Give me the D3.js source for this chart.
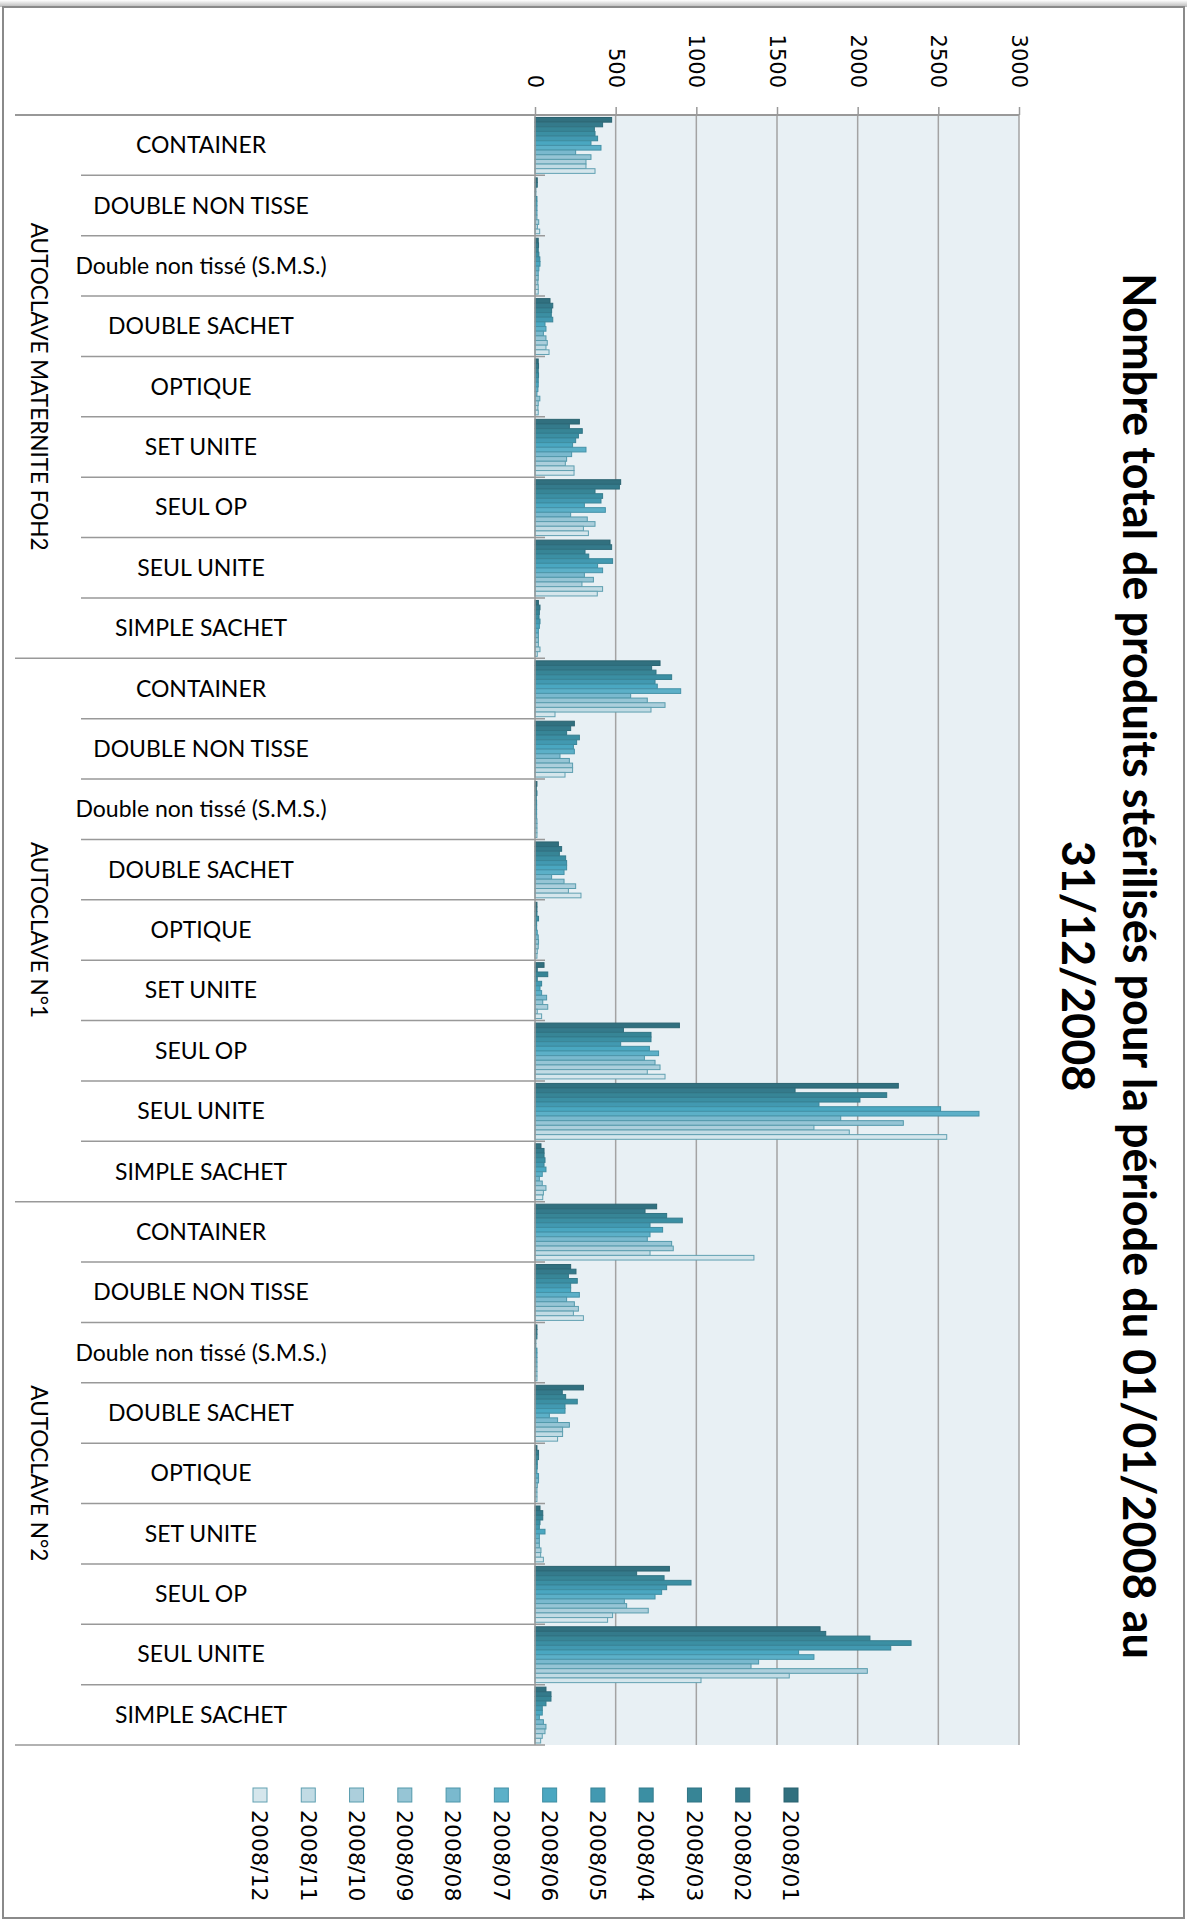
<!DOCTYPE html>
<html>
<head>
<meta charset="utf-8">
<title>Nombre total de produits stérilisés 2008</title>
<script src="https://d3js.org/d3.v7.min.js"></script>
<style>
  body { margin: 0; background: #fff; }
  .lab { font-family: Lato, "Open Sans", sans-serif; fill: #000; }
  .num { font-family: "DejaVu Sans", sans-serif; fill: #000; }
</style>
</head>
<body>
<div id="chart"></div>
<script>
// outer level (autoclave) and inner level (product)
var groups = ["AUTOCLAVE MATERNITE FOH2", "AUTOCLAVE N°1", "AUTOCLAVE N°2"];
var products = ["CONTAINER", "DOUBLE NON TISSE", "Double non tissé (S.M.S.)", "DOUBLE SACHET",
                "OPTIQUE", "SET UNITE", "SEUL OP", "SEUL UNITE", "SIMPLE SACHET"];
var months = ["2008/01", "2008/02", "2008/03", "2008/04", "2008/05", "2008/06",
              "2008/07", "2008/08", "2008/09", "2008/10", "2008/11", "2008/12"];
var tickValues = [0, 500, 1000, 1500, 2000, 2500, 3000];

// one row per product, months 01..12
var foh2 = [
  [475, 419, 368, 372, 388, 347, 409, 252, 347, 316, 316, 372],
  [14, 14, 5, 5, 12, 12, 12, 12, 12, 23, 15, 29],
  [20, 22, 20, 24, 30, 31, 24, 20, 20, 18, 20, 20],
  [93, 110, 103, 101, 110, 62, 68, 52, 68, 76, 68, 87],
  [20, 22, 20, 22, 20, 20, 18, 12, 30, 20, 18, 20],
  [275, 213, 293, 269, 252, 233, 316, 227, 196, 188, 242, 242],
  [531, 523, 372, 419, 409, 306, 436, 221, 324, 372, 300, 331],
  [465, 475, 310, 333, 481, 388, 419, 306, 362, 291, 419, 386],
  [21, 31, 27, 25, 31, 27, 21, 21, 21, 21, 31, 14]
];
var autoclave1 = [
  [775, 723, 750, 847, 744, 758, 903, 593, 696, 806, 719, 124],
  [244, 221, 196, 275, 258, 238, 244, 155, 213, 233, 233, 186],
  [12, 8, 12, 8, 10, 10, 10, 10, 12, 12, 12, 12],
  [145, 165, 151, 190, 196, 196, 180, 103, 180, 252, 207, 285],
  [12, 12, 12, 22, 10, 10, 14, 20, 22, 20, 14, 12],
  [56, 14, 79, 14, 41, 31, 41, 72, 48, 79, 14, 41],
  [895, 548, 719, 719, 531, 709, 766, 678, 744, 775, 696, 806],
  [2252, 1612, 2180, 2014, 1760, 2514, 2752, 1895, 2283, 1729, 1948, 2552],
  [37, 56, 56, 62, 56, 68, 45, 27, 45, 68, 52, 48]
];
var autoclave2 = [
  [754, 682, 816, 913, 713, 791, 713, 696, 847, 857, 713, 1357],
  [221, 254, 207, 262, 221, 221, 275, 196, 244, 269, 238, 300],
  [12, 12, 12, 5, 5, 12, 12, 12, 12, 12, 12, 12],
  [300, 169, 190, 262, 186, 186, 89, 140, 213, 171, 171, 140],
  [12, 22, 22, 14, 14, 12, 22, 22, 14, 12, 12, 12],
  [31, 48, 48, 31, 27, 62, 27, 27, 27, 37, 35, 52],
  [833, 630, 800, 967, 816, 785, 744, 554, 568, 702, 481, 450],
  [1767, 1802, 2076, 2331, 2205, 1634, 1729, 1386, 1339, 2060, 1576, 1029],
  [68, 99, 99, 68, 45, 45, 27, 52, 68, 62, 45, 35]
];
var monthColors = ["#31707f", "#347a8b", "#378596", "#3b8fa3", "#4299b1", "#4aa7c1",
                   "#5cb0c8", "#7ab9ce", "#96c5d5", "#accfdc", "#c1dbe4", "#d5e6ec"];
var monthStrokes = ["#2b6370", "#2e6b7a", "#317484", "#357d8e", "#3a8598", "#3f8ea2",
                    "#4592a8", "#4d96aa", "#5399ab", "#5a9dae", "#5e9fb0", "#62a1b2"];

var series = [foh2, autoclave1, autoclave2];
var rows = [];
groups.forEach(function(g, gi) {
  products.forEach(function(p, pi) {
    rows.push({ group: g, gi: gi, pi: pi, product: p, key: gi + "|" + pi, values: series[gi][pi] });
  });
});

var width = 1187, height = 1921;
var plotLeft = 535, plotRight = 1019, plotTop = 115, plotBottom = 1745;

var svg = d3.select("#chart").append("svg")
  .attr("width", width)
  .attr("height", height);

// page frame with a little shadow on top
var grad = svg.append("defs").append("linearGradient")
  .attr("id", "shade").attr("x1", 0).attr("y1", 0).attr("x2", 0).attr("y2", 1);
grad.append("stop").attr("offset", "0%").attr("stop-color", "#ffffff");
grad.append("stop").attr("offset", "100%").attr("stop-color", "#b8b8b8");
svg.append("rect").attr("x", 0).attr("y", 0).attr("width", width).attr("height", 7).attr("fill", "url(#shade)");
svg.append("rect")
  .attr("x", 3).attr("y", 7).attr("width", width - 6).attr("height", height - 10)
  .attr("fill", "#fff").attr("stroke", "#8a8a8a").attr("stroke-width", 2);

var x = d3.scaleLinear().domain([0, 3000]).range([plotLeft, plotRight]);
var y = d3.scaleBand().domain(rows.map(function(d) { return d.key; })).range([plotTop, plotBottom]);
var yMonth = d3.scaleBand().domain(months).range([2.5, y.bandwidth() - 2]);
var color = d3.scaleOrdinal().domain(months).range(monthColors);
var strokeColor = d3.scaleOrdinal().domain(months).range(monthStrokes);

// plot background
svg.append("rect")
  .attr("x", plotLeft).attr("y", plotTop)
  .attr("width", plotRight - plotLeft).attr("height", plotBottom - plotTop)
  .attr("fill", "#e8f0f4");

// gridlines
svg.append("g").selectAll("line")
  .data(tickValues.filter(function(d) { return d > 0; }))
  .enter().append("line")
  .attr("x1", function(d) { return x(d); }).attr("x2", function(d) { return x(d); })
  .attr("y1", plotTop).attr("y2", plotBottom)
  .attr("stroke", "#a3a3a3").attr("stroke-width", 1.5);

// bars
var rowG = svg.append("g").selectAll("g")
  .data(rows)
  .enter().append("g")
  .attr("transform", function(d) { return "translate(0," + y(d.key) + ")"; });

rowG.selectAll("rect")
  .data(function(d) { return d.values.map(function(v, i) { return { month: months[i], value: v }; }); })
  .enter().append("rect")
  .attr("x", x(0))
  .attr("y", function(d) { return yMonth(d.month); })
  .attr("width", function(d) { return x(d.value) - x(0); })
  .attr("height", yMonth.bandwidth())
  .attr("fill", function(d) { return color(d.month); })
  .attr("stroke", function(d) { return strokeColor(d.month); })
  .attr("stroke-width", 1);

// value axis on top
var axis = svg.append("g")
  .attr("transform", "translate(0," + plotTop + ")")
  .call(d3.axisTop(x).tickValues(tickValues).tickSize(8).tickFormat(d3.format("d")));
axis.select(".domain").remove();
axis.selectAll("line").attr("stroke", "#999").attr("stroke-width", 1.5);
axis.selectAll("text")
  .attr("class", "num")
  .attr("font-size", 21)
  .attr("transform", "rotate(90)")
  .attr("x", -27).attr("y", 0).attr("dy", "0.35em")
  .attr("text-anchor", "end");

svg.append("line")
  .attr("x1", 15).attr("x2", plotRight)
  .attr("y1", plotTop).attr("y2", plotTop)
  .attr("stroke", "#999").attr("stroke-width", 2);
svg.append("line")
  .attr("x1", plotLeft).attr("x2", plotLeft)
  .attr("y1", plotTop).attr("y2", plotBottom)
  .attr("stroke", "#999").attr("stroke-width", 1.5);

// category separators: long ones between autoclaves, short ones between products
var bounds = rows.map(function(d) { return { y: y(d.key), outer: d.pi === 0 }; });
bounds.push({ y: plotBottom, outer: true });
svg.append("g").selectAll("line")
  .data(bounds)
  .enter().append("line")
  .attr("x1", function(d) { return d.outer ? 15 : 81; })
  .attr("x2", plotLeft + 10)
  .attr("y1", function(d) { return d.y; }).attr("y2", function(d) { return d.y; })
  .attr("stroke", "#999").attr("stroke-width", 1.5);

// product labels
svg.append("g").selectAll("text")
  .data(rows)
  .enter().append("text")
  .attr("class", "lab")
  .attr("font-size", 23)
  .attr("x", 201)
  .attr("y", function(d) { return y(d.key) + y.bandwidth() / 2; })
  .attr("dy", "0.35em")
  .attr("text-anchor", "middle")
  .text(function(d) { return d.product; });

// autoclave labels, turned
svg.append("g").selectAll("text")
  .data(groups)
  .enter().append("text")
  .attr("class", "lab")
  .attr("font-size", 22.5)
  .attr("text-anchor", "middle")
  .attr("dy", "0.35em")
  .attr("transform", function(g, gi) {
    var top = y(gi + "|0"), bottom = y(gi + "|" + (products.length - 1)) + y.bandwidth();
    return "translate(39," + (top + bottom) / 2 + ") rotate(90)";
  })
  .text(function(d) { return d; });

// title
var title = svg.append("text")
  .attr("class", "lab")
  .attr("font-size", 45)
  .attr("font-weight", "bold")
  .attr("text-anchor", "middle")
  .attr("transform", "translate(1139,966) rotate(90)");
title.append("tspan").attr("x", 0).attr("dy", "0.35em")
  .text("Nombre total de produits stérilisés pour la période du 01/01/2008 au");
title.append("tspan").attr("x", 0).attr("dy", 61).text("31/12/2008");

// legend
var lx = d3.scalePoint().domain(months).range([791, 260]);
var leg = svg.append("g").selectAll("g")
  .data(months)
  .enter().append("g")
  .attr("transform", function(d) { return "translate(" + lx(d) + ",0)"; });
leg.append("rect")
  .attr("x", -7).attr("y", 1788).attr("width", 14).attr("height", 14)
  .attr("fill", function(d) { return color(d); })
  .attr("stroke", function(d) { return strokeColor(d); });
leg.append("text")
  .attr("class", "num")
  .attr("font-size", 22)
  .attr("transform", "translate(0,1810) rotate(90)")
  .attr("dy", "0.35em")
  .text(function(d) { return d; });
</script>
</body>
</html>
